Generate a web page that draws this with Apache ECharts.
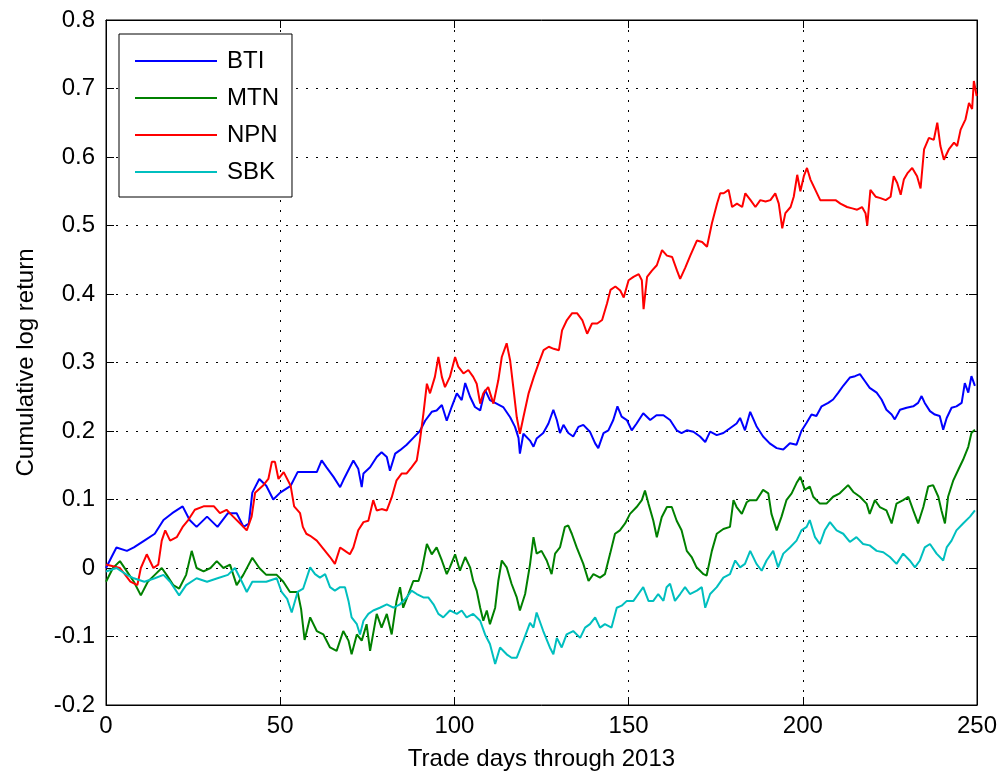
<!DOCTYPE html>
<html>
<head>
<meta charset="utf-8">
<script src="https://cdn.jsdelivr.net/npm/echarts@6/dist/echarts.min.js"></script>
<style>
  html, body { margin: 0; padding: 0; background: #fff; }
  #main { width: 1002px; height: 779px; }
</style>
</head>
<body>
<div id="main"></div>
<script>
// [trade day, cumulative log return]
var names = ['BTI', 'MTN', 'NPN', 'SBK'];
var colors = ['#0000ff', '#008000', '#ff0000', '#00bfbf'];

var bti = [[0,0],[1.6,0.016],[3,0.03],[6,0.025],[8,0.03],[11,0.04],[14,0.05],[16.5,0.07],[19,0.08],[22,0.09],[24,0.07],[26,0.06],[29,0.075],[32,0.06],[35,0.08],[37.5,0.08],[39.5,0.06],[41,0.065],[42,0.11],[44,0.13],[46,0.12],[48,0.10],[50,0.11],[53,0.12],[55,0.14],[58,0.14],[60.5,0.14],[61.9,0.157],[63.3,0.147],[65.3,0.133],[67.2,0.118],[68.1,0.128],[70,0.147],[71,0.157],[72.4,0.145],[73.4,0.118],[73.9,0.138],[75.8,0.147],[77.7,0.162],[79.1,0.169],[80.6,0.162],[81.5,0.142],[83,0.167],[84.4,0.172],[86.3,0.18],[88.2,0.19],[90.1,0.2],[91.6,0.215],[93.5,0.228],[94.9,0.23],[96.4,0.238],[97.8,0.215],[99.2,0.235],[100.7,0.255],[102.1,0.245],[103.1,0.27],[104.5,0.25],[105.9,0.235],[107.4,0.23],[108.8,0.26],[110.2,0.245],[112.1,0.24],[114,0.235],[116,0.22],[117.4,0.206],[118.4,0.19],[118.8,0.167],[119.8,0.196],[121.7,0.186],[122.7,0.177],[123.6,0.189],[125.5,0.197],[127,0.211],[128.4,0.231],[129.4,0.216],[130.3,0.197],[131.3,0.209],[132.7,0.197],[134.1,0.192],[135.6,0.206],[137,0.209],[138.9,0.199],[140.4,0.182],[141.3,0.175],[142.8,0.197],[144.2,0.201],[145.6,0.216],[146.8,0.236],[148,0.221],[149.5,0.216],[150.9,0.201],[152.3,0.211],[154.2,0.226],[156.2,0.216],[158,0.223],[160,0.223],[161.9,0.216],[163.8,0.201],[165.2,0.197],[166.7,0.201],[168.6,0.199],[170.5,0.192],[172,0.184],[173.4,0.199],[175.3,0.194],[177.2,0.197],[179.1,0.204],[181,0.211],[182,0.219],[183.4,0.201],[184.9,0.228],[186.7,0.207],[188.6,0.192],[190.5,0.182],[192.5,0.175],[194.4,0.173],[196.3,0.182],[198.2,0.18],[199.6,0.2],[201.1,0.212],[202.5,0.224],[203.9,0.222],[205.4,0.236],[207.3,0.241],[208.7,0.246],[210.2,0.256],[211.6,0.266],[213.5,0.278],[215,0.28],[216.4,0.283],[217.8,0.273],[219.2,0.263],[221.2,0.256],[222.6,0.246],[224,0.231],[225.5,0.224],[226.4,0.217],[227.9,0.231],[229.8,0.234],[231.7,0.236],[233.1,0.241],[234.1,0.251],[235,0.241],[236.5,0.229],[237.9,0.224],[239.3,0.222],[240.3,0.202],[241.3,0.219],[242.7,0.234],[244.1,0.236],[245.6,0.241],[246.5,0.27],[247.5,0.256],[248.4,0.28],[249.4,0.266]];

var mtn = [[0,-0.02],[2,0],[4,0.01],[6,-0.005],[8,-0.02],[10,-0.04],[12,-0.02],[14,-0.01],[16,0],[17.4,-0.01],[19.3,-0.025],[21,-0.03],[23,-0.01],[24.6,0.025],[26,0],[28,-0.005],[30,0],[31.8,0.01],[33.7,0],[35.6,0.005],[37.5,-0.025],[39.4,-0.01],[42,0.015],[44,0],[46,-0.01],[49,-0.01],[50.9,-0.02],[52.8,-0.035],[55,-0.035],[56,-0.06],[57,-0.105],[58.6,-0.072],[60.5,-0.092],[62.4,-0.097],[64.3,-0.116],[66.2,-0.121],[68.1,-0.092],[69.6,-0.106],[70.5,-0.126],[72,-0.097],[73.4,-0.106],[74.8,-0.082],[75.8,-0.121],[77.7,-0.067],[79.1,-0.087],[80.6,-0.067],[82,-0.097],[83.4,-0.048],[84.4,-0.028],[85.3,-0.058],[86.8,-0.038],[88.2,-0.019],[89.7,-0.019],[90.6,-0.004],[92.1,0.035],[93.5,0.02],[94.9,0.03],[96.4,0.011],[97.8,-0.009],[98.7,0.001],[100.2,0.02],[101.6,-0.004],[103.1,0.016],[104.5,0.001],[105.4,-0.019],[106.4,-0.033],[107.4,-0.058],[108.3,-0.077],[109.3,-0.062],[110.2,-0.082],[111.7,-0.058],[112.6,-0.019],[113.6,0.011],[115,0.001],[116.4,-0.023],[117.9,-0.043],[118.8,-0.062],[120.3,-0.038],[121.7,0.005],[122.7,0.045],[123.6,0.021],[125,0.025],[126.5,0.011],[127.9,-0.009],[128.9,0.021],[130.3,0.03],[131.7,0.06],[132.7,0.062],[133.7,0.05],[135.1,0.03],[137,0.006],[138.5,-0.019],[139.9,-0.009],[141.8,-0.014],[143.2,-0.009],[144.7,0.021],[146.1,0.05],[147.5,0.055],[149,0.065],[150.4,0.079],[152.3,0.089],[153.8,0.099],[154.7,0.113],[155.7,0.094],[157.1,0.069],[158.1,0.045],[159.5,0.074],[161,0.089],[162.4,0.089],[163.8,0.069],[165.2,0.055],[166.7,0.025],[168.1,0.016],[169.5,0.001],[171.5,-0.009],[172.4,-0.011],[173.9,0.025],[175.3,0.05],[177.2,0.057],[179.1,0.06],[180.1,0.099],[181,0.089],[182.5,0.079],[183.9,0.096],[184.8,0.099],[186.7,0.099],[188.6,0.114],[190.1,0.109],[191,0.079],[192.5,0.055],[193.9,0.075],[195.3,0.099],[196.8,0.109],[198.2,0.124],[199.3,0.133],[200.6,0.114],[202,0.119],[203,0.104],[204.9,0.094],[206.8,0.094],[208.7,0.104],[210.6,0.109],[213,0.121],[214.5,0.111],[216.4,0.104],[218.3,0.094],[219.2,0.079],[220.7,0.099],[222.1,0.089],[224,0.084],[225.5,0.065],[226.9,0.094],[228.8,0.099],[230.3,0.104],[231.7,0.084],[233.1,0.065],[234.6,0.089],[236,0.119],[237.4,0.121],[238.9,0.104],[239.8,0.084],[240.8,0.065],[241.7,0.104],[243.2,0.128],[244.6,0.143],[246,0.158],[247.5,0.177],[248.4,0.197],[249.4,0.202]];

var npn = [[0,0.005],[4,0],[7,-0.02],[9,-0.025],[10,0],[11.7,0.02],[13.6,0],[15,0.005],[16,0.04],[17,0.055],[18.4,0.04],[20.3,0.045],[22,0.06],[23.6,0.07],[25.5,0.085],[28,0.09],[31,0.09],[32.7,0.08],[34.6,0.085],[36.5,0.075],[38.5,0.065],[40.4,0.055],[41.8,0.075],[42.8,0.11],[45,0.12],[46.6,0.13],[47.6,0.155],[48.5,0.155],[49.5,0.13],[51,0.14],[53,0.12],[54,0.09],[55.7,0.08],[56.5,0.06],[57.5,0.05],[58.6,0.047],[60.5,0.04],[62.4,0.028],[64.3,0.016],[65.7,0.006],[67.2,0.03],[68.6,0.025],[70,0.02],[71,0.03],[72.4,0.055],[73.9,0.067],[75.3,0.069],[76.7,0.099],[77.7,0.084],[79.1,0.086],[80.6,0.084],[82,0.103],[83.4,0.128],[84.9,0.138],[86.3,0.138],[87.7,0.147],[89.2,0.157],[90.1,0.186],[91.1,0.225],[92.1,0.269],[93,0.255],[94.4,0.279],[95.4,0.308],[96.4,0.279],[97.3,0.264],[98.7,0.279],[100.2,0.308],[101.1,0.294],[102.6,0.284],[104,0.289],[105.4,0.279],[106.4,0.269],[107.4,0.24],[108.3,0.255],[109.7,0.264],[111.2,0.24],[112.6,0.274],[113.6,0.308],[115,0.328],[116,0.303],[116.9,0.264],[117.9,0.22],[118.8,0.196],[119.8,0.22],[121.3,0.255],[122.8,0.279],[124.2,0.299],[125.6,0.318],[127.1,0.323],[128.5,0.32],[130,0.318],[130.9,0.347],[132.3,0.362],[133.8,0.372],[135.2,0.372],[136.7,0.362],[138.1,0.342],[139.5,0.357],[141,0.357],[142.4,0.362],[143.8,0.386],[144.8,0.406],[146.2,0.411],[147.6,0.405],[148.6,0.395],[150,0.42],[151.4,0.425],[152.9,0.429],[153.8,0.42],[154.3,0.378],[155.3,0.425],[156.7,0.434],[158.1,0.442],[159.6,0.464],[161,0.456],[162.5,0.454],[163.9,0.434],[164.8,0.422],[166.3,0.439],[167.7,0.456],[169.6,0.478],[171.1,0.476],[172.5,0.469],[173.9,0.503],[175.4,0.532],[176.3,0.547],[177.3,0.547],[178.7,0.552],[179.7,0.527],[181.1,0.532],[182.6,0.527],[183.5,0.547],[185,0.537],[186.4,0.527],[187.8,0.537],[189.3,0.535],[190.7,0.537],[192.1,0.547],[193.1,0.532],[194.1,0.496],[195,0.518],[196.5,0.527],[197.4,0.542],[198.4,0.574],[199.3,0.55],[200.3,0.572],[201.2,0.584],[202.2,0.567],[203.6,0.552],[205,0.537],[206.5,0.537],[207.9,0.537],[209.4,0.537],[210.8,0.532],[212.7,0.527],[214.2,0.525],[215.6,0.523],[217,0.527],[218,0.518],[218.5,0.5],[219.4,0.552],[220.9,0.542],[222.3,0.54],[223.8,0.537],[225.2,0.542],[226.1,0.572],[227.1,0.562],[228.1,0.545],[229,0.567],[230,0.576],[231.4,0.584],[232.8,0.572],[233.8,0.554],[234.8,0.611],[236.2,0.628],[237.6,0.625],[238.6,0.65],[239.5,0.616],[240.5,0.596],[241.9,0.611],[243.4,0.621],[244.3,0.616],[245.3,0.64],[246.7,0.655],[247.7,0.679],[248.6,0.67],[249.1,0.711],[249.9,0.689]];

var sbk = [[0,-0.005],[3,0],[6,-0.01],[8,-0.015],[11,-0.02],[14,-0.015],[16.5,-0.01],[18.4,-0.02],[21,-0.04],[23,-0.025],[26,-0.015],[29,-0.02],[32,-0.015],[35,-0.01],[37,0],[39,-0.02],[40.4,-0.035],[42,-0.02],[46,-0.02],[49,-0.015],[50.4,-0.035],[52,-0.045],[53.3,-0.065],[55,-0.035],[56.6,-0.03],[58.6,0.001],[60,-0.009],[61.4,-0.014],[62.9,-0.009],[64.3,-0.028],[65.7,-0.033],[67.2,-0.028],[68.6,-0.028],[69.6,-0.048],[70.5,-0.072],[72,-0.082],[72.9,-0.097],[73.9,-0.077],[75.3,-0.067],[76.7,-0.062],[78.6,-0.058],[80.6,-0.053],[82.5,-0.058],[84.4,-0.053],[86.3,-0.043],[87.7,-0.033],[89.2,-0.038],[91.1,-0.043],[92.5,-0.043],[94,-0.053],[95.4,-0.067],[96.8,-0.072],[98.7,-0.062],[100.7,-0.067],[102.1,-0.062],[103.5,-0.072],[105.4,-0.067],[107.4,-0.077],[108.8,-0.097],[110.2,-0.111],[111.7,-0.14],[113.1,-0.116],[115,-0.126],[116.4,-0.131],[117.9,-0.131],[119.8,-0.106],[121.7,-0.08],[122.7,-0.087],[123.6,-0.065],[125.5,-0.092],[127.4,-0.116],[128.4,-0.126],[129.4,-0.102],[130.8,-0.116],[132.2,-0.097],[134.1,-0.092],[136.1,-0.102],[137.5,-0.087],[138.9,-0.082],[140.4,-0.072],[141.8,-0.087],[143.2,-0.082],[145.1,-0.087],[146.6,-0.058],[148,-0.055],[149.5,-0.048],[151.4,-0.048],[152.8,-0.038],[154.2,-0.028],[155.7,-0.048],[157.1,-0.048],[158.5,-0.038],[160,-0.048],[160.9,-0.028],[161.9,-0.023],[163.3,-0.048],[164.8,-0.038],[166.2,-0.028],[167.6,-0.038],[169.6,-0.033],[171,-0.028],[172,-0.058],[173.4,-0.038],[175.3,-0.028],[177.2,-0.014],[179.1,-0.009],[180.6,0.011],[182,0.001],[183.4,0.006],[184.9,0.025],[186.7,0.006],[188.2,-0.004],[189.6,0.011],[191.5,0.025],[192.9,0.001],[194.4,0.021],[196.3,0.03],[198.2,0.04],[199.6,0.055],[201.1,0.06],[202,0.07],[203.5,0.045],[204.9,0.035],[206.3,0.055],[207.8,0.067],[209.7,0.055],[211.6,0.05],[213.5,0.038],[215.4,0.045],[217.3,0.035],[219.2,0.033],[221.2,0.025],[223.1,0.023],[225,0.016],[226.9,0.006],[228.8,0.021],[230.7,0.011],[232.2,0.001],[233.6,0.011],[235,0.03],[236.5,0.035],[238.4,0.021],[240.3,0.011],[241.3,0.03],[242.7,0.04],[244.1,0.055],[246,0.065],[248,0.075],[249.4,0.084]];

var seriesData = [bti, mtn, npn, sbk];

var FONT = "'Liberation Sans', Arial, sans-serif";
var FS = 24;

var myChart = echarts.init(document.getElementById('main'), null, { renderer: 'canvas' });

var dotted = { color: '#000', width: 1, type: [2, 8] };
var tick = { show: true, inside: true, length: 8, lineStyle: { color: '#000' } };

function yFmt(v) { return String(+v.toFixed(1)); }

myChart.setOption({
    animation: false,
    backgroundColor: '#fff',
    textStyle: { fontFamily: FONT, color: '#000' },
    grid: {
        left: 106, right: 25, top: 20, bottom: 74,
        show: true, borderColor: '#000', borderWidth: 1, backgroundColor: '#fff'
    },
    legend: {
        data: names,
        orient: 'vertical',
        left: 119, top: 34,
        backgroundColor: '#fff',
        borderColor: '#000', borderWidth: 1,
        padding: [14, 13, 12, 16],
        icon: 'rect',
        itemWidth: 82, itemHeight: 2, itemGap: 11,
        textStyle: { fontFamily: FONT, fontSize: FS, color: '#000', padding: [0, 0, 0, 5], lineHeight: 26 }
    },
    xAxis: [{
        type: 'value', min: 0, max: 250, interval: 50,
        name: 'Trade days through 2013', nameLocation: 'middle', nameGap: 42,
        nameTextStyle: { fontFamily: FONT, fontSize: FS, color: '#000' },
        axisLine: { show: true, onZero: false, lineStyle: { color: '#000' } },
        axisTick: tick,
        axisLabel: { fontFamily: FONT, fontSize: FS, color: '#000', margin: 9 },
        splitLine: { show: true, lineStyle: dotted }
    }, {
        type: 'value', min: 0, max: 250, interval: 50, position: 'top',
        axisLine: { show: true, onZero: false, lineStyle: { color: '#000' } },
        axisTick: tick,
        axisLabel: { show: false }, splitLine: { show: false }
    }],
    yAxis: [{
        type: 'value', min: -0.2, max: 0.8, interval: 0.1,
        name: 'Cumulative log return', nameLocation: 'middle', nameGap: 68,
        nameTextStyle: { fontFamily: FONT, fontSize: FS, color: '#000' },
        axisLine: { show: true, onZero: false, lineStyle: { color: '#000' } },
        axisTick: tick,
        axisLabel: { fontFamily: FONT, fontSize: FS, color: '#000', margin: 11, formatter: yFmt },
        splitLine: { show: true, lineStyle: dotted }
    }, {
        type: 'value', min: -0.2, max: 0.8, interval: 0.1, position: 'right',
        axisLine: { show: true, onZero: false, lineStyle: { color: '#000' } },
        axisTick: tick,
        axisLabel: { show: false }, splitLine: { show: false }
    }],
    series: names.map(function (n, i) {
        return {
            name: n,
            type: 'line',
            xAxisIndex: 0, yAxisIndex: 0,
            data: seriesData[i],
            symbol: 'none',
            color: colors[i],
            lineStyle: { color: colors[i], width: 2 },
            z: 3 + i
        };
    })
});
</script>
</body>
</html>
